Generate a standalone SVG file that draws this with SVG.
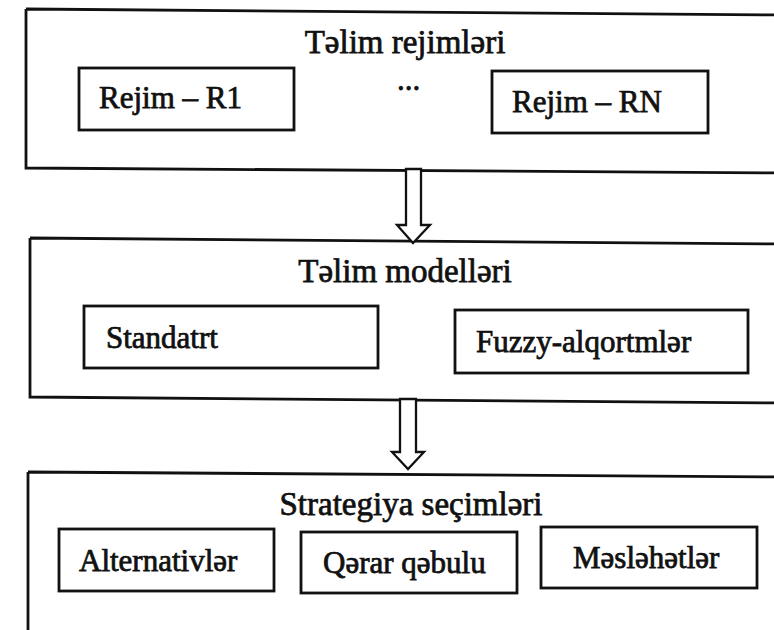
<svg xmlns="http://www.w3.org/2000/svg" width="774" height="630" viewBox="0 0 774 630">
<style>
.outer{fill:none;stroke:#111;stroke-width:2.8}
.box{fill:#fff;stroke:#111;stroke-width:2.8}
.arrow{fill:#fff;stroke:#111;stroke-width:2.3;stroke-linejoin:miter}
text{font-family:"Liberation Serif","DejaVu Serif",serif;fill:#111;stroke:#111;stroke-width:0.75}
.h{font-size:33px;text-anchor:middle}
.t{font-size:31px}
</style>
<rect width="774" height="630" fill="#fff"/>
<g id="regimes">
<path class="outer" d="M26,9 L780,15 M26,9 L26,168 L780,173"/>
<text class="h" x="405" y="53">Təlim rejimləri</text>
<g id="r1"><rect class="box" x="79" y="68" width="215" height="62"/><text class="t" x="99" y="108">Rejim – R1</text></g>
<g id="dots"><text class="t" x="397" y="90">...</text></g>
<g id="rn"><rect class="box" x="492" y="71" width="216" height="62"/><text class="t" x="512" y="112">Rejim – RN</text></g>
</g>
<g id="models">
<path class="outer" d="M30,238 L780,244 M30,238 L30,397 L780,403"/>
<text class="h" x="405" y="282">Təlim modelləri</text>
<g id="standart"><rect class="box" x="84" y="306" width="294" height="62"/><text class="t" x="106" y="348">Standatrt</text></g>
<g id="fuzzy"><rect class="box" x="455" y="310" width="293" height="63"/><text class="t" x="476" y="352">Fuzzy-alqortmlər</text></g>
</g>
<g id="strategies">
<path class="outer" d="M28,472 L780,477 M28,472 L28,640"/>
<text class="h" x="411" y="515">Strategiya seçimləri</text>
<g id="alt"><rect class="box" x="59" y="529" width="215" height="62"/><text class="t" x="79" y="571">Alternativlər</text></g>
<g id="qerar"><rect class="box" x="301" y="532" width="216" height="61"/><text class="t" x="323" y="573">Qərar qəbulu</text></g>
<g id="meslehet"><rect class="box" x="541" y="527" width="216" height="61"/><text class="t" x="573" y="568">Məsləhətlər</text></g>
</g>
<g id="connectors">
<path class="arrow" d="M406,169 L421,169 L421,225 L430,225 L413,243 L397,225 L406,225 Z"/>
<path class="arrow" d="M400,399 L416,399 L416,452 L424,452 L408,469 L392,452 L400,452 Z"/>
</g>
</svg>
